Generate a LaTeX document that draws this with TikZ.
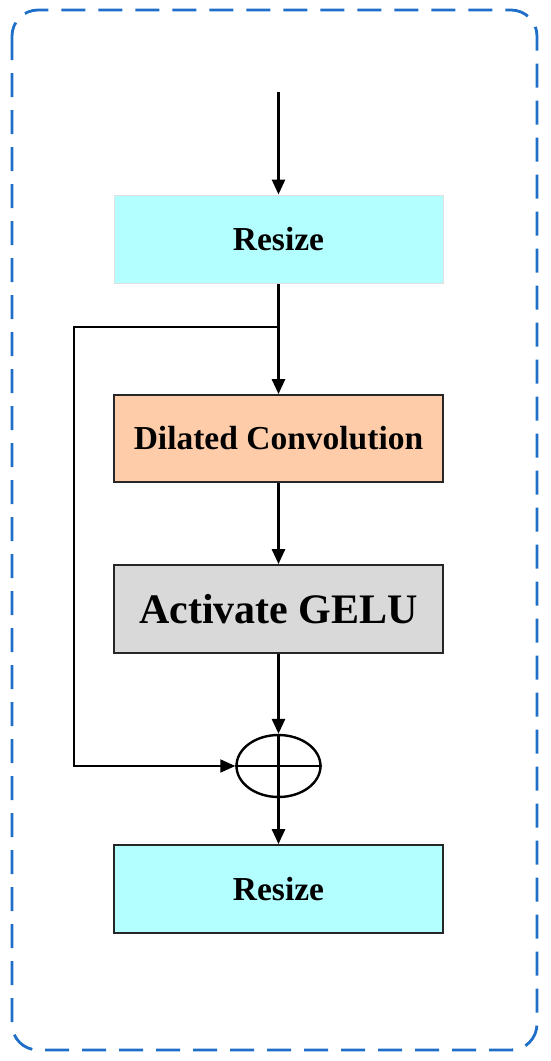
\documentclass[tikz,border=0pt]{standalone}
\usepackage{fontspec}
\setmainfont{Liberation Serif}
\usepackage{tikz}
\usetikzlibrary{positioning,arrows.meta,shapes.geometric}
\definecolor{frameblue}{HTML}{1F6FC8}
\definecolor{resizecyan}{HTML}{B3FFFF}
\definecolor{convpeach}{HTML}{FFCCAA}
\definecolor{actgrey}{HTML}{D9D9D9}
\tikzset{
  blk/.style={rectangle, minimum width=329pt, inner sep=2pt, align=center,
              draw=black!85, line width=1.8pt,
              font=\fontsize{33.5}{38}\selectfont\bfseries},
  blk resize/.style={blk, fill=resizecyan},
  blk conv/.style={blk, fill=convpeach},
  blk act/.style={blk, fill=actgrey, font=\fontsize{42}{46}\selectfont\bfseries},
  blk arr/.style={-{Triangle[length=15pt,width=13pt]}, line width=2.8pt, black},
  blk line/.style={line width=1.9pt, black},
  blk sum/.style={ellipse, draw=black, line width=2.4pt, minimum width=84pt, minimum height=62pt, inner sep=0pt},
}

\begin{document}
\begin{tikzpicture}[x=1pt, y=-1pt]
  \useasboundingbox (0,0) rectangle (550,1061);
  % outer dashed frame
  \draw[frameblue, line width=2.8pt, dash pattern=on 24pt off 13pt, rounded corners=26pt] (12,10) rectangle (537,1050);
  % blocks of the branch
  \node[blk resize, draw=black!12, line width=1pt, minimum height=88pt] (rs1) at (278.5,239) {Resize};
  \node[blk conv, minimum height=87pt] (dil) at (278.5,438.5) {Dilated Convolution};
  \node[blk act, minimum height=88pt] (gelu) at (278.5,609) {Activate GELU};
  \node[blk sum] (sum) at (278.5,766) {};
  \node[blk resize, minimum height=88pt] (rs2) at (278.5,889) {Resize};
  \draw[blk line, line width=2.6pt] (sum.west) -- (sum.east);
  % main path
  \coordinate (in) at (278.5,92);
  \coordinate (split) at (278.5,327);
  \draw[blk arr] (in) -- (rs1);
  \draw[blk arr] (rs1) -- (dil);
  \draw[blk arr] (dil) -- (gelu);
  \draw[blk arr] (gelu) -- (sum);
  \draw[blk arr] (sum.north) -- (rs2);
  % skip connection
  \draw[blk line, -{Triangle[length=15pt,width=13pt]}] (split) -- (74,327) |- (sum.west);
\end{tikzpicture}
\end{document}
